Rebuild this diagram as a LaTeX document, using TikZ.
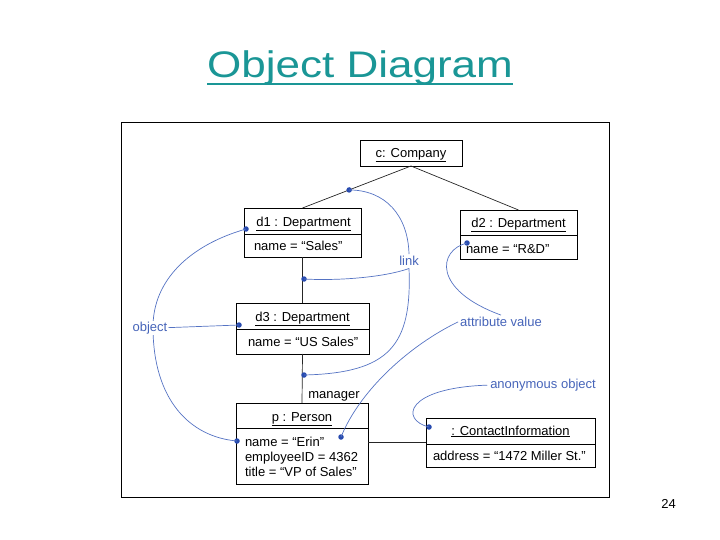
\documentclass[tikz,border=0pt]{standalone}
\usepackage{fontspec}
\setmainfont{Liberation Sans}
\definecolor{titleteal}{RGB}{26,150,150}
\definecolor{lblblue}{RGB}{70,100,185}
\definecolor{crvblue}{RGB}{85,115,195}
\definecolor{dotblue}{RGB}{40,75,175}
\begin{document}
\begin{tikzpicture}[x=1pt,y=-1pt,
  every node/.style={font=\fontsize{13}{15}\selectfont, inner sep=0pt, outer sep=0pt},
  objbox/.style={draw=black, line width=0.8pt},
  boxline/.style={draw=black, line width=0.8pt},
  linkline/.style={draw=black!85, line width=0.7pt},
  crv/.style={draw=crvblue, line width=0.7pt},
  dot/.style={circle, fill=dotblue, minimum size=5.5pt},
  lbl/.style={text=lblblue, anchor=base},
  lblw/.style={text=lblblue, anchor=base, fill=white, inner sep=1pt}
]
\useasboundingbox (0,0) rectangle (720,540);

% title
\node[anchor=base, text=titleteal, font=\fontsize{37}{44}\selectfont] (title) at (360,78) {\scalebox{1.19}[1]{Object Diagram}};
\draw[titleteal, line width=2.6pt] ([yshift=-6pt]title.base west) -- ([yshift=-6pt]title.base east);

% frame
\draw[line width=0.8pt] (121,122) rectangle (609,497);

% page number
\node[anchor=base] (pg) at (668.5,508.5) {24};

% object boxes
\node[objbox, minimum width=102pt, minimum height=26pt] (c) at (411,153) {};
\node[anchor=base] (ct) at (411,157.5) {\underline{c: Company}};

\node[objbox, minimum width=117pt, minimum height=49pt] (d1) at (302.5,232.5) {};
\draw[boxline] (d1.west |- 0,234) -- (d1.east |- 0,234);
\node[anchor=base] (d1t) at (303.5,226) {\underline{d1 : Department}};
\node[anchor=base west] (d1a) at (254,251) {name = “Sales”};

\node[objbox, minimum width=117pt, minimum height=49pt] (d2) at (518.5,234.5) {};
\draw[boxline] (d2.west |- 0,235) -- (d2.east |- 0,235);
\node[anchor=base] (d2t) at (518.5,227) {\underline{d2 : Department}};
\node[anchor=base west] (d2a) at (466,253) {name = “R\&D”};

\node[objbox, minimum width=133pt, minimum height=51pt] (d3) at (302.5,328.5) {};
\draw[boxline] (d3.west |- 0,329) -- (d3.east |- 0,329);
\node[anchor=base] (d3t) at (302.5,321) {\underline{d3 : Department}};
\node[anchor=base west] (d3a) at (248,346) {name = “US Sales”};

\node[objbox, minimum width=132pt, minimum height=81pt] (p) at (302,443.5) {};
\draw[boxline] (p.west |- 0,428) -- (p.east |- 0,428);
\node[anchor=base] (pt) at (302,421) {\underline{p : Person}};
\node[anchor=base west] (pa1) at (245,446.5) {name = “Erin”};
\node[anchor=base west] (pa2) at (245,461.5) {employeeID = 4362};
\node[anchor=base west] (pa3) at (245,476.5) {title = “VP of Sales”};

\node[objbox, minimum width=169pt, minimum height=49pt] (ci) at (510.5,442.5) {};
\draw[boxline] (ci.west |- 0,444) -- (ci.east |- 0,444);
\node[anchor=base] (cit) at (510.5,435) {\underline{: ContactInformation}};
\node[anchor=base west] (cia) at (433,460.5) {address = “1472 Miller St.”};

% links
\draw[linkline] (c.south) -- node[dot, pos=0.57] (A) {} (d1.north);
\draw[linkline] (c.south) -- (d2.north);
\draw[linkline] (d1.south) -- (d3.north);
\draw[linkline] (d3.south) -- (p.north);
\coordinate (pe) at (368,442);
\coordinate (cw) at (426,442);
\draw[linkline] (pe) -- (cw);
\node[anchor=base] (mgr) at (334,398.5) {manager};

% dots
\node[dot] (B) at (246,229) {};
\node[dot] (C) at (304,279) {};
\node[dot] (D) at (304,375) {};
\node[dot] (E) at (239,325) {};
\node[dot] (F) at (237,441) {};
\node[dot] (G) at (341,437) {};
\node[dot] (H) at (467,243) {};
\node[dot] (I) at (429,427) {};

% annotation labels
\node[lbl] (link) at (409,265.5) {link};
\node[lbl] (attr) at (501,326.5) {attribute value};
\node[lbl] (anon) at (543,388.5) {anonymous object};

% annotation curves
\draw[crv] (A.center) .. controls (385,190) and (408,215) .. ([yshift=2pt]link.north);
\draw[crv] ([yshift=-3pt]link.south) .. controls (385,277) and (340,281) .. (C.center);
\draw[crv] ([yshift=-3pt]link.south) .. controls (412,345) and (390,373) .. (D.center);

\draw[crv] (B.center) .. controls (190,245) and (153,280) .. (153,327)
  .. controls (153,400) and (190,437) .. (F.center);
\node[lblw] (obj) at (150,331) {object};
\draw[crv] (obj.east) -- (E.center);

\draw[crv] (H.center) .. controls (438,250) and (432,290) .. ([yshift=2pt]attr.north);
\draw[crv] ([xshift=-2pt]attr.west) .. controls (410,345) and (360,390) .. (G.center);

\draw[crv] ([xshift=-3pt]anon.west) .. controls (405,388) and (400,420) .. (I.center);
\end{tikzpicture}
\end{document}
